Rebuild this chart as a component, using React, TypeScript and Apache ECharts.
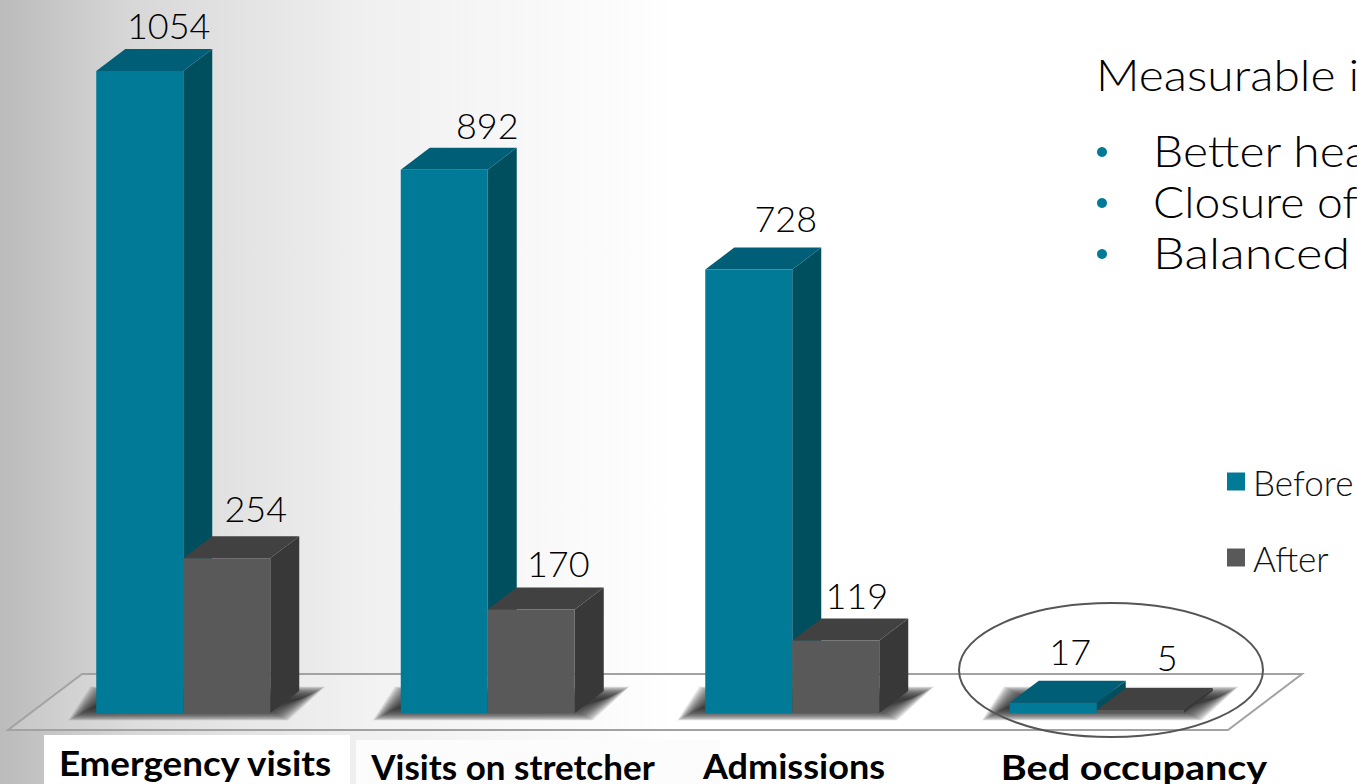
import React, { useEffect, useRef } from "react";
import * as echarts from "echarts";

const categories = ["Emergency visits", "Visits on stretcher", "Admissions", "Bed occupancy"];
const beforeValues = [1054, 892, 728, 17];
const afterValues = [254, 170, 119, 5];
const seriesNames = ["Before", "After"];
const heading = "Measurable i";
const bulletLines = ["Better hea", "Closure of", "Balanced"];

const FONT = "Lato, 'Open Sans', sans-serif";
const BAR_W = 87;
const DEPTH_X = 29;
const DEPTH_Y = 22;

// Hand placement of the value labels around each bar's back edge: [dx, lift]
const beforeLabelNudge = [[0, 24], [14, 23], [8, 30], [-12, 30]];
const afterLabelNudge = [[0, 28], [-2, 24], [-8, 24], [-2, 31]];
// Horizontal centre and vertical centre of the bold category captions
const captionPos = [[195, 763], [513, 766], [794, 766], [1134, 766]];
// The captions and side text use a wide geometric look, so the glyphs are stretched a little
const captionStretch = [1.05, 1.0, 1.03, 1.13];
const bulletStretch = [1.09, 1.05, 1.15];

const palette = {
  before: { front: "#007a96", top: "#005f77", side: "#004f5f" },
  after: { front: "#595959", top: "#414141", side: "#383838" },
};

// Soft ground shadow built from stacked translucent polygons, widest first
function groundShadow(cx: number, yBase: number) {
  const layers: any[] = [];
  const steps = 24;
  for (let k = 0; k < steps; k++) {
    const e = 12 - k;
    const ey = e * 0.55;
    layers.push({
      type: "polygon",
      shape: {
        points: [
          [cx - BAR_W - 16 - e, yBase + 1 + ey],
          [cx - BAR_W + 6 - e, yBase - 20 - ey],
          [cx + BAR_W + DEPTH_X + 14 + e, yBase - 20 - ey],
          [cx + BAR_W + 6 + e, yBase + 1 + ey],
        ],
      },
      style: { fill: "#2a2a2a", opacity: 0.09 },
    });
  }
  return layers;
}

function cuboid(api: any, side: -1 | 1, colors: any, nudge: number[][], withShadow: boolean) {
  const idx = api.value(0);
  const val = api.value(1);
  const [cx, yTop] = api.coord([idx, val]);
  const [, yBase] = api.coord([idx, 0]);
  const x0 = side < 0 ? cx - BAR_W : cx;
  const x1 = x0 + BAR_W;
  const dx = DEPTH_X;
  const dy = DEPTH_Y;
  const children: any[] = withShadow ? groundShadow(cx, yBase) : [];
  children.push(
    {
      type: "polygon",
      shape: { points: [[x1, yTop], [x1 + dx, yTop - dy], [x1 + dx, yBase - dy], [x1, yBase]] },
      style: { fill: colors.side },
    },
    {
      type: "polygon",
      shape: { points: [[x0, yTop], [x0 + dx, yTop - dy], [x1 + dx, yTop - dy], [x1, yTop]] },
      style: { fill: colors.top },
    },
    {
      type: "rect",
      shape: { x: x0, y: yTop, width: BAR_W, height: yBase - yTop },
      style: { fill: colors.front },
    },
    {
      type: "text",
      style: {
        text: String(val),
        x: (x0 + x1) / 2 + dx + nudge[idx][0],
        y: yTop - dy - nudge[idx][1],
        align: "center",
        verticalAlign: "middle",
        fontFamily: FONT,
        fontWeight: 300,
        fontSize: 36,
        fill: "#000",
      },
    }
  );
  return { type: "group", children };
}

function plainText(
  text: string,
  x: number,
  y: number,
  fontSize: number,
  fontWeight = 300,
  align = "left",
  scaleX = 1
) {
  return {
    type: "text",
    z: 20,
    x,
    y,
    scaleX,
    style: { text, fontFamily: FONT, fontSize, fontWeight, fill: "#000", align, verticalAlign: "middle" },
  };
}

export default function App() {
  const ref = useRef<HTMLDivElement>(null);
  useEffect(() => {
    document.body.style.margin = "0";
    const chart = echarts.init(ref.current!, null, { renderer: "svg" });
    chart.setOption({
      animation: false,
      backgroundColor: {
        type: "linear",
        x: 0,
        y: 0,
        x2: 1,
        y2: 0,
        colorStops: [
          { offset: 0, color: "#bbbbbb" },
          { offset: 0.1, color: "#d8d8d8" },
          { offset: 0.27, color: "#f0f0f0" },
          { offset: 0.5, color: "#ffffff" },
          { offset: 1, color: "#ffffff" },
        ],
      },
      grid: { left: 31, right: 108, top: 43, bottom: 71 },
      xAxis: { type: "category", data: categories, show: false },
      yAxis: { type: "value", min: 0, max: 1100, show: false },
      legend: {
        orient: "vertical",
        left: 1222,
        top: 459,
        itemWidth: 18,
        itemHeight: 18,
        itemGap: 41,
        icon: "rect",
        textStyle: { fontFamily: FONT, fontWeight: 300, fontSize: 35, color: "#111", padding: [0, 0, 0, 3] },
        data: seriesNames.map((name, i) => ({
          name,
          itemStyle: { color: i === 0 ? palette.before.front : palette.after.front },
        })),
      },
      graphic: [
        {
          type: "polygon",
          z: 0,
          shape: { points: [[8, 730], [82, 674], [1302, 674], [1228, 730]] },
          style: { fill: "rgba(255,255,255,0.15)", stroke: "#a2a2a2", lineWidth: 2 },
        },
        { type: "rect", z: 1, shape: { x: 44, y: 735, width: 306, height: 49 }, style: { fill: "#fff" } },
        { type: "rect", z: 1, shape: { x: 356, y: 740, width: 364, height: 44 }, style: { fill: "#fcfcfc" } },
        {
          type: "ellipse",
          z: 10,
          shape: { cx: 1111, cy: 670, rx: 152, ry: 67 },
          style: { fill: "none", stroke: "#555", lineWidth: 2 },
        },
        ...categories.map((c, i) =>
          plainText(c, captionPos[i][0], captionPos[i][1], 35, 700, "center", captionStretch[i])
        ),
        plainText(heading, 1096, 74, 44, 300, "left", 1.09),
        ...bulletLines.map((t, i) => plainText(t, 1153, 150 + i * 51, 44, 300, "left", bulletStretch[i])),
        ...bulletLines.map((_, i) => ({
          type: "circle",
          z: 20,
          shape: { cx: 1102, cy: 152 + i * 51, r: 5 },
          style: { fill: palette.before.front },
        })),
      ],
      series: [
        {
          type: "custom",
          name: seriesNames[0],
          encode: { x: 0, y: 1 },
          data: beforeValues.map((v, i) => [i, v]),
          itemStyle: { color: palette.before.front },
          renderItem: (_: any, api: any) => cuboid(api, -1, palette.before, beforeLabelNudge, true),
          clip: false,
        },
        {
          type: "custom",
          name: seriesNames[1],
          encode: { x: 0, y: 1 },
          data: afterValues.map((v, i) => [i, v]),
          itemStyle: { color: palette.after.front },
          renderItem: (_: any, api: any) => cuboid(api, 1, palette.after, afterLabelNudge, false),
          clip: false,
        },
      ],
    });
    return () => chart.dispose();
  }, []);
  return <div ref={ref} style={{ position: "fixed", left: 0, top: 0, width: 1357, height: 784, overflow: "hidden" }} />;
}
